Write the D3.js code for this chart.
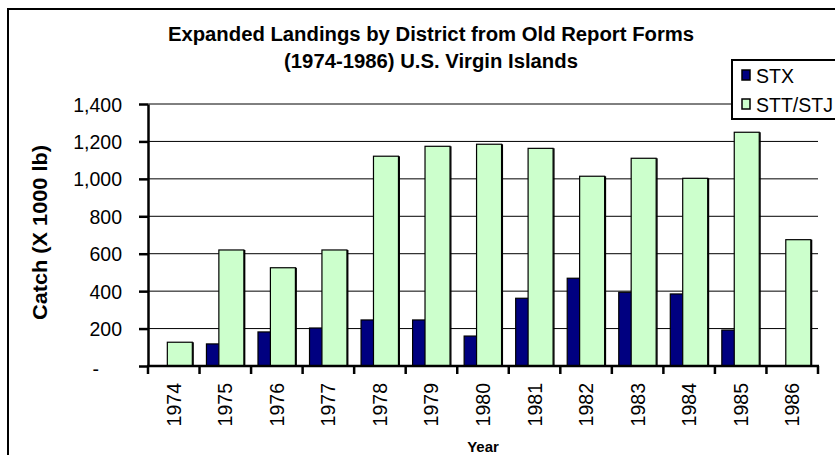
<!DOCTYPE html>
<html><head><meta charset="utf-8">
<script src="https://cdn.jsdelivr.net/npm/d3@7"></script>
<style>
html,body{margin:0;padding:0;background:#fff;}
svg{display:block;font-family:Arial,"Liberation Sans",sans-serif;}
</style></head>
<body><svg id="c" width="835" height="455"></svg>
<script>
const years = ["1974","1975","1976","1977","1978","1979","1980","1981","1982","1983","1984","1985","1986"];
const stx = [0,118,182,203,246,246,160,362,469,394,385,192,0];
const stt = [127,620,525,620,1121,1174,1185,1163,1014,1110,1003,1249,675];
const seriesNames = ["STX","STT/STJ"];
const seriesColors = ["#000080","#CCFFCC"];
const yTicks = [0,200,400,600,800,1000,1200,1400];
const titleLines = ["Expanded Landings by District from Old Report Forms","(1974-1986) U.S. Virgin Islands"];

const svg = d3.select("#c");
const L = 148, R = 818, T = 104, B = 366;
const x = d3.scaleBand().domain(years).range([L, R]).padding(0);
const y = d3.scaleLinear().domain([0, 1400]).range([B, T]);
const bw = x.bandwidth();

// outer chart border
svg.append("path").attr("d", `M8,455 L8,9 L835,9`).attr("fill","none").attr("stroke","#000").attr("stroke-width",2);

// gridlines
svg.append("g").selectAll("line").data(yTicks.filter(d=>d>0)).join("line")
  .attr("x1", L).attr("x2", R).attr("y1", d=>y(d)).attr("y2", d=>y(d))
  .attr("stroke","#000").attr("stroke-width",1);

// bars
const g = svg.append("g");
g.selectAll("rect.stx").data(years.map((yr,i)=>({yr,v:stx[i]})).filter(d=>d.v>0)).join("rect")
  .attr("class","stx")
  .attr("x", d=>x(d.yr)+bw*0.134).attr("width", bw*0.485)
  .attr("y", d=>y(d.v)).attr("height", d=>B-y(d.v))
  .attr("fill", seriesColors[0]).attr("stroke","#000").attr("stroke-width",1.2);
g.selectAll("rect.stt").data(years.map((yr,i)=>({yr,v:stt[i]})).filter(d=>d.v>0)).join("rect")
  .attr("class","stt")
  .attr("x", d=>x(d.yr)+bw*0.375).attr("width", bw*0.485)
  .attr("y", d=>y(d.v)).attr("height", d=>B-y(d.v))
  .attr("fill", seriesColors[1]).attr("stroke","#000").attr("stroke-width",1.2);
// thicker right edges (shadow-like)
g.selectAll("line.sh").data(years.map((yr,i)=>({yr,v:stt[i]})).filter(d=>d.v>0)).join("line")
  .attr("x1", d=>x(d.yr)+bw*0.375+bw*0.485+0.8).attr("x2", d=>x(d.yr)+bw*0.375+bw*0.485+0.8)
  .attr("y1", d=>y(d.v)).attr("y2", B).attr("stroke","#000").attr("stroke-width",1.4);

// y axis
const yAxis = d3.axisLeft(y).tickValues(yTicks).tickSize(9).tickSizeOuter(0)
  .tickFormat(d => d === 0 ? "-" : d3.format(",")(d));
const ya = svg.append("g").attr("transform", `translate(${L},0)`).call(yAxis);
ya.select(".domain").attr("stroke","#000").attr("stroke-width",2.5);
ya.selectAll(".tick line").attr("stroke","#000").attr("stroke-width",2.5);
ya.selectAll(".tick text").attr("font-size","19.5px").attr("fill","#000")
  .attr("font-family","Arial, 'Liberation Sans', sans-serif").attr("x",-26).attr("dy","0.36em");
ya.selectAll(".tick text").filter(d=>d===0).attr("x",-49).attr("dy","0.5em");

// x axis
const xa = svg.append("g");
xa.append("line").attr("x1",L-1).attr("x2",R+1).attr("y1",B).attr("y2",B).attr("stroke","#000").attr("stroke-width",2.5);
const bounds = years.map(d=>x(d)).concat([R]);
xa.selectAll("line.t").data(bounds).join("line").attr("class","t")
  .attr("x1",d=>d).attr("x2",d=>d).attr("y1",B).attr("y2",B+8).attr("stroke","#000").attr("stroke-width",2.5);
xa.selectAll("text").data(years).join("text")
  .attr("transform", d=>`translate(${x(d)+bw/2+7},383) rotate(-90)`)
  .attr("text-anchor","end").attr("font-size","19.5px").attr("fill","#000").text(d=>d);

// axis titles
svg.append("text").attr("transform","translate(47,232.5) rotate(-90)").attr("text-anchor","middle")
  .attr("font-size","20px").attr("font-weight","bold").attr("textLength",175).attr("lengthAdjust","spacingAndGlyphs")
  .text("Catch (X 1000 lb)");
svg.append("text").attr("x",483).attr("y",451.5).attr("text-anchor","middle")
  .attr("font-size","15px").attr("font-weight","bold").text("Year");

// title
svg.append("text").attr("x",431).attr("y",41).attr("text-anchor","middle")
  .attr("font-size","20.3px").attr("font-weight","bold").text(titleLines[0]);
svg.append("text").attr("x",431).attr("y",68).attr("text-anchor","middle")
  .attr("font-size","20.3px").attr("font-weight","bold").text(titleLines[1]);

// legend
const lg = svg.append("g");
lg.append("rect").attr("x",732).attr("y",60).attr("width",120).attr("height",59)
  .attr("fill","#fff").attr("stroke","#000").attr("stroke-width",2);
seriesNames.forEach((n,i)=>{
  const cy = 75 + i*29;
  lg.append("rect").attr("x",742).attr("y",cy-5).attr("width",8).attr("height",10)
    .attr("fill",seriesColors[i]).attr("stroke","#000").attr("stroke-width",1.5);
  lg.append("text").attr("x",756).attr("y",cy+7.5).attr("font-size","19.5px").attr("fill","#000").text(n);
});
</script></body></html>
